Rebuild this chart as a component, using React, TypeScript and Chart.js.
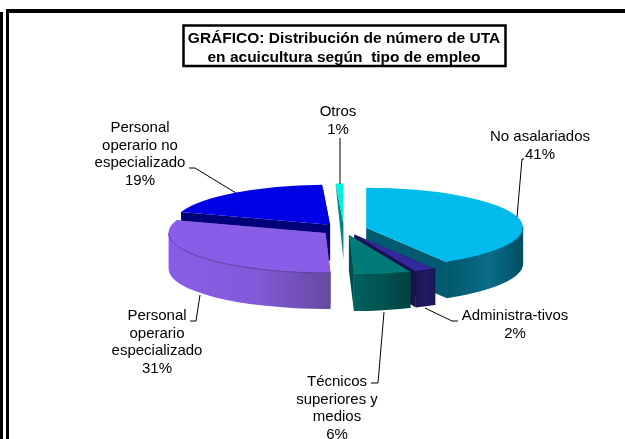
import React, { useEffect, useRef } from "react";
import { Chart, registerables } from "chart.js";

Chart.register(...registerables);

const categories = [
  ["No asalariados"],
  ["Administra-tivos"],
  ["Técnicos", "superiores y", "medios"],
  ["Personal", "operario", "especializado"],
  ["Personal", "operario no", "especializado"],
  ["Otros"],
];
// the labels show them rounded
const shares = [41.4, 2.2, 5.9, 30.6, 19.1, 0.8];
const titleLines = ["GRÁFICO: Distribución de número de UTA", "en acuicultura según  tipo de empleo"];

const faceColors = ["#00BBEC", "#33299A", "#007B78", "#8A5DE8", "#0000E4", "#00F0E4"];
const wallColors = ["#005A70", "#16124F", "#004F4C", "#5A3E9C", "#000078", "#0A8480"];
const rimColors = [
  ["#00586C", "#0A6C88", "#004E62"],
  ["#1A1650", "#221C66", "#1A1650"],
  ["#006260", "#00524F", "#00413F"],
  ["#8A5DE8", "#8259D8", "#664A9E"],
  ["#000078", "#000078", "#000078"],
  ["#0A8480", "#0A8480", "#0A8480"],
];
// back-to-front painting order of the extruded sides
const paintOrder = [4, 5, 0, 1, 2, 3];

const SQUASH = 0.255;
const DEPTH = 36;
const EXPLODE = 23;
const RADIUS = 157;

// centre x, centre y of the first line of every label, in category order
const labelPlaces = [
  { x: 540, y: 137 },
  { x: 515, y: 316 },
  { x: 337, y: 382 },
  { x: 157, y: 316 },
  { x: 140, y: 128 },
  { x: 338, y: 112 },
];
const leaders = [
  [[524, 159], [522, 159], [517, 217]],
  [[458, 321], [452, 321], [425, 308]],
  [[371, 383], [378, 383], [384, 312]],
  [[190, 321], [196, 321], [200, 295]],
  [[189, 168], [195, 168], [236, 193]],
  [[340, 138], [340, 184]],
];

const frontRanges = (start: number, end: number) => {
  const twoPi = Math.PI * 2;
  const ranges: number[][] = [];
  for (const turn of [-twoPi, 0, twoPi]) {
    const lo = Math.max(start, turn);
    const hi = Math.min(end, turn + Math.PI);
    if (hi > lo) ranges.push([lo, hi]);
  }
  return ranges;
};

const pie3d = {
  id: "pie3d",
  beforeDatasetDraw(chart: any) {
    const { ctx } = chart;
    const arcs = chart.getDatasetMeta(0).data;
    const centre = (el: any) => {
      const mid = (el.startAngle + el.endAngle) / 2;
      return [el.x + Math.cos(mid) * EXPLODE, el.y + Math.sin(mid) * EXPLODE * SQUASH];
    };
    // extruded sides, back to front
    paintOrder.forEach((i) => {
      const el = arcs[i];
      const { startAngle, endAngle, outerRadius: r } = el;
      const [cx, cy] = centre(el);
      const pt = (a: number) => [cx + Math.cos(a) * r, cy + Math.sin(a) * r * SQUASH];
      ctx.save();
      ctx.fillStyle = wallColors[i];
      [startAngle, endAngle].forEach((a: number) => {
        const [px, py] = pt(a);
        const s = Math.sin(a);
        const drop = DEPTH * (s >= 0 ? 1 : 1 + s);
        ctx.beginPath();
        ctx.moveTo(cx, cy);
        ctx.lineTo(px, py);
        ctx.lineTo(px, py + drop);
        ctx.lineTo(cx, cy + DEPTH);
        ctx.closePath();
        ctx.fill();
      });
      frontRanges(startAngle, endAngle).forEach(([lo, hi]) => {
        const xs = [pt(lo)[0], pt(hi)[0], pt((lo + hi) / 2)[0]];
        const g = ctx.createLinearGradient(Math.min(...xs), 0, Math.max(...xs), 0);
        const c = rimColors[i];
        g.addColorStop(0, c[0]);
        g.addColorStop(0.55, c[1]);
        g.addColorStop(1, c[2]);
        ctx.fillStyle = g;
        ctx.beginPath();
        ctx.ellipse(cx, cy, r, r * SQUASH, 0, lo, hi);
        ctx.ellipse(cx, cy + DEPTH, r, r * SQUASH, 0, hi, lo, true);
        ctx.closePath();
        ctx.fill();
      });
      ctx.restore();
    });
    // top faces, drawn by the library's own arc elements
    arcs.forEach((el: any, i: number) => {
      const [cx, cy] = centre(el);
      ctx.save();
      ctx.translate(cx - el.x, cy);
      ctx.scale(1, SQUASH);
      ctx.translate(0, -el.y);
      el.draw(ctx);
      ctx.restore();
      ctx.save();
      ctx.strokeStyle = wallColors[i];
      ctx.lineWidth = 1;
      frontRanges(el.startAngle, el.endAngle).forEach(([lo, hi]) => {
        ctx.beginPath();
        ctx.ellipse(cx, cy, el.outerRadius, el.outerRadius * SQUASH, 0, lo, hi);
        ctx.stroke();
      });
      ctx.restore();
    });
    return false;
  },
  beforeDraw(chart: any) {
    const { ctx, width, height } = chart;
    ctx.save();
    ctx.fillStyle = "#ffffff";
    ctx.fillRect(0, 0, width, height);
    ctx.fillStyle = "#000000";
    ctx.fillRect(0, 12, 3, height - 12);
    ctx.fillRect(6, 9, 3, height - 9);
    ctx.fillRect(6, 9, width - 6, 4);
    ctx.strokeStyle = "#000000";
    ctx.lineWidth = 2.5;
    ctx.strokeRect(183.5, 25.5, 322, 40.5);
    ctx.restore();
  },
  afterDraw(chart: any) {
    const { ctx } = chart;
    ctx.save();
    ctx.strokeStyle = "#000000";
    ctx.lineWidth = 1;
    leaders.forEach((pts) => {
      ctx.beginPath();
      pts.forEach((p, i) => (i ? ctx.lineTo(p[0], p[1]) : ctx.moveTo(p[0], p[1])));
      ctx.stroke();
    });
    ctx.fillStyle = "#000000";
    ctx.font = '15px "Liberation Sans", Arial, sans-serif';
    ctx.textAlign = "center";
    ctx.textBaseline = "middle";
    categories.forEach((lines, i) => {
      const place = labelPlaces[i];
      const all = [...lines, Math.round(shares[i]) + "%"];
      all.forEach((t, n) => ctx.fillText(t, place.x, place.y + n * 17.6));
    });
    ctx.restore();
  },
};

export default function App() {
  const ref = useRef<HTMLCanvasElement>(null);
  useEffect(() => {
    const chart = new Chart(ref.current as HTMLCanvasElement, {
      type: "pie",
      data: {
        labels: categories.map((c) => c.join(" ")),
        datasets: [
          {
            data: shares,
            backgroundColor: faceColors,
            borderWidth: 0,
            radius: RADIUS,
            clip: false,
          } as any,
        ],
      },
      options: {
        responsive: false,
        animation: false,
        events: [],
        layout: { padding: { left: 63, bottom: 48, top: 0, right: 0 } },
        plugins: {
          legend: { display: false },
          tooltip: { enabled: false },
          title: {
            display: true,
            text: titleLines,
            color: "#000000",
            font: { family: '"Liberation Sans", Arial, sans-serif', size: 15.5, weight: "bold", lineHeight: 1.25 },
            padding: { top: 29, bottom: 0 },
          },
        },
      },
      plugins: [pie3d],
    });
    return () => chart.destroy();
  }, []);
  return (
    <div style={{ position: "absolute", left: 0, top: 0, width: 625, height: 439, overflow: "hidden" }}>
      <canvas ref={ref} width={625} height={439} style={{ display: "block" }} />
    </div>
  );
}
